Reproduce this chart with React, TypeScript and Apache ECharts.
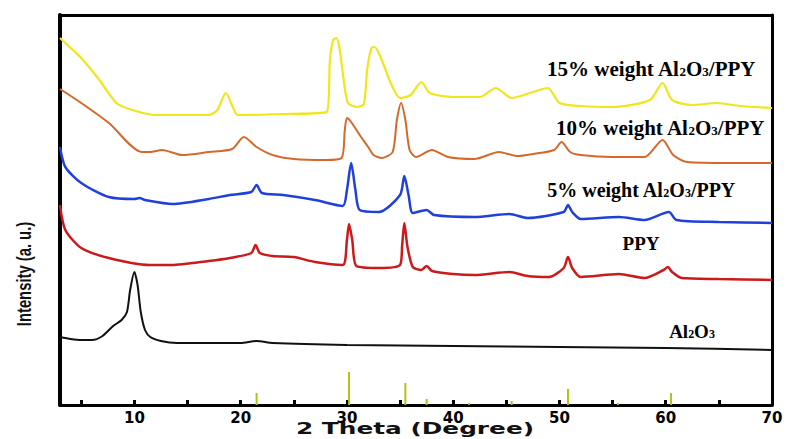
import React, { useEffect, useRef } from "react";
import * as echarts from "echarts";

// 2θ tick labels and minor tick positions
const xLabelTicks = [10, 20, 30, 40, 50, 60, 70];
const xMinorTicks = [5, 10, 15, 20, 25, 30, 35, 40, 45, 50, 55, 60, 65];

// Intensity (a.u.) vs 2θ, offset traces
const al2o3: [number, number][] = [
  [3, 68], [4, 66], [5, 65], [6, 65], [7, 69], [8, 79], [8.8, 85], [9.3, 93], [9.6, 115],
  [10.0, 133], [10.3, 120], [10.6, 93], [11, 75], [11.5, 68], [12.5, 64], [14, 62], [20, 62],
  [21.5, 64], [23, 62], [30, 60], [40, 59], [50, 58], [60, 57], [70, 55],
];

const ppy: [number, number][] = [
  [3, 200], [3.5, 175], [5, 157], [7.6, 147], [11.4, 140], [13.5, 140], [17, 144], [19, 147],
  [21.0, 152], [21.4, 160], [21.8, 152], [23, 149], [25, 148], [27, 143], [29.6, 140],
  [30.0, 165], [30.2, 181], [30.5, 165], [30.9, 139], [33, 137], [35.0, 140], [35.2, 160], [35.4, 182],
  [35.7, 158], [36.2, 138], [37.0, 135], [37.5, 139], [38, 134], [40, 131], [42, 130], [45.3, 133],
  [47, 129], [49, 128], [50.4, 137], [50.8, 148], [51.2, 137], [52, 128], [55.6, 131], [58, 127],
  [59.8, 135], [60.2, 138], [60.6, 133], [61.5, 127], [65, 126], [70, 125],
];

const ppy5: [number, number][] = [
  [3, 258], [3.5, 238], [5, 222], [7.6, 208], [10, 206], [10.5, 207], [11, 205], [13.6, 201],
  [17, 206], [19, 210], [21, 213], [21.5, 220], [22, 212], [24, 210], [27, 205], [29.6, 199],
  [30.0, 215], [30.4, 242], [30.8, 215], [31.2, 195], [33, 193], [35.0, 210], [35.4, 229],
  [35.8, 210], [36.2, 192], [37.5, 195], [38.2, 190], [42, 188], [45.3, 191], [47, 187],
  [50.4, 193], [50.8, 200], [51.2, 193], [52, 186], [55.6, 188], [58, 185], [60.3, 193],
  [61, 185], [65, 183], [70, 182],
];

const ppy10: [number, number][] = [
  [3, 316], [5, 302], [7.6, 282], [10.7, 253], [11.5, 253], [12.6, 255], [14.5, 250], [17, 253],
  [19.2, 256], [20.3, 268], [21.5, 258], [23, 250], [25, 246], [28, 245], [29.5, 247], [29.8, 275],
  [30.0, 287], [30.4, 283], [31.2, 270], [32.0, 258], [32.5, 250], [33.3, 247], [34.3, 253],
  [34.7, 285], [35.1, 302], [35.5, 285], [35.9, 255], [36.5, 248], [38, 255], [39.5, 248],
  [42, 246], [44.3, 253], [46, 249], [47.5, 251], [49.5, 255], [50.2, 263], [51, 253], [52, 250],
  [55, 248], [58, 248], [59.7, 265], [60.7, 250], [62, 243], [66, 242], [70, 242],
];

const ppy15: [number, number][] = [
  [3, 367], [4, 357], [5, 347], [6.7, 325], [8.3, 302], [9.8, 295], [12, 290], [17, 290],
  [17.8, 295], [18.6, 312], [19.3, 297], [19.7, 290], [24, 291], [28.1, 293], [28.4, 345],
  [28.7, 365], [29.0, 367], [29.3, 357], [29.7, 325], [30.1, 302], [31.0, 298], [31.6, 301],
  [31.9, 335], [32.3, 357], [32.6, 358], [33.2, 347], [34.2, 320], [35, 307], [36, 310],
  [37, 323], [37.8, 312], [40, 308], [42.5, 308], [44, 317], [45.5, 307], [47.5, 313],
  [48.9, 317], [50, 302], [52, 299], [55, 298], [58.5, 305], [59.7, 322], [60.6, 305],
  [62.5, 300], [64.8, 302], [67, 299], [70, 297],
];

// Reference stick pattern (2θ, relative intensity)
const refPeaks: [number, number][] = [
  [21.5, 12], [30.2, 33], [35.5, 22], [37.5, 6], [41.5, 2], [45.5, 4], [50.8, 16], [55.5, 2], [60.5, 12],
];

function rich(size: number) {
  const base = { fontFamily: "Liberation Serif", fontWeight: "bold", color: "#222", lineHeight: 26 };
  return {
    n: { ...base, fontSize: size, verticalAlign: "middle" },
    s: { ...base, fontSize: Math.round(size * 0.62), verticalAlign: "bottom", padding: [0, 0, 4, 0] },
  };
}

function label(text: string, x: number, y: number, size: number) {
  return {
    type: "text",
    x,
    y,
    style: { text, rich: rich(size), align: "center", verticalAlign: "middle" },
  };
}

export default function App() {
  const ref = useRef<HTMLDivElement>(null);
  useEffect(() => {
    if (!ref.current) return;
    const chart = echarts.init(ref.current, null, { renderer: "svg" });
    const line = (name: string, data: [number, number][], color: string, width: number) => ({
      name,
      type: "line",
      data,
      showSymbol: false,
      smooth: 0.25,
      lineStyle: { color, width },
      z: 3,
    });
    const frameLine = (width: number) => ({ show: true, onZero: false, lineStyle: { color: "#000", width } });
    chart.setOption({
      animation: false,
      backgroundColor: "#fff",
      grid: { left: 60, right: 14, top: 15, bottom: 34 },
      xAxis: [
        {
          type: "value",
          min: 3,
          max: 70,
          axisLine: frameLine(3),
          axisTick: { show: true, inside: true, length: 5, customValues: xMinorTicks, lineStyle: { color: "#000", width: 3 } },
          axisLabel: { customValues: xLabelTicks, margin: 5, fontFamily: "DejaVu Sans", fontWeight: 900, fontSize: 15, color: "#000" },
          splitLine: { show: false },
        },
        {
          type: "value",
          position: "top",
          min: 3,
          max: 70,
          axisLine: frameLine(3),
          axisTick: { show: false },
          axisLabel: { show: false },
          splitLine: { show: false },
        },
      ],
      yAxis: [
        {
          type: "value",
          min: 0,
          max: 390,
          axisLine: frameLine(4),
          axisTick: { show: false },
          axisLabel: { show: false },
          splitLine: { show: false },
        },
        {
          type: "value",
          position: "right",
          min: 0,
          max: 390,
          axisLine: frameLine(3),
          axisTick: { show: false },
          axisLabel: { show: false },
          splitLine: { show: false },
        },
      ],
      graphic: [
        label("{n|15% weight Al}{s|2}{n|O}{s|3}{n|/PPY}", 651, 69, 21),
        label("{n|10% weight Al}{s|2}{n|O}{s|3}{n|/PPY}", 660, 128, 21),
        label("{n|5% weight Al}{s|2}{n|O}{s|3}{n|/PPY}", 641, 190, 20),
        label("{n|PPY}", 641, 243, 19),
        label("{n|Al}{s|2}{n|O}{s|3}", 692, 331, 19),
        {
          type: "text",
          x: 24,
          y: 274,
          rotation: Math.PI / 2,
          scaleX: 0.74,
          style: {
            text: "Intensity (a. u.)",
            fontFamily: "Liberation Sans",
            fontWeight: "bold",
            fontSize: 20,
            fill: "#111",
            align: "center",
            verticalAlign: "middle",
          },
        },
        {
          type: "text",
          x: 415,
          y: 429,
          scaleX: 1.55,
          style: {
            text: "2 Theta (Degree)",
            fontFamily: "DejaVu Sans",
            fontWeight: "bold",
            fontSize: 16,
            fill: "#111",
            align: "center",
            verticalAlign: "middle",
          },
        },
      ],
      series: [
        line("Al2O3", al2o3, "#111111", 2),
        line("PPY", ppy, "#cc1a1a", 2.5),
        line("5% weight Al2O3/PPY", ppy5, "#2040dc", 2.5),
        line("10% weight Al2O3/PPY", ppy10, "#d4692b", 2),
        line("15% weight Al2O3/PPY", ppy15, "#efe61c", 2.2),
        {
          name: "Reference",
          type: "bar",
          data: refPeaks,
          barWidth: 2,
          itemStyle: { color: "#b3c01c" },
          z: 2,
        },
      ],
    });
    return () => chart.dispose();
  }, []);
  return <div ref={ref} style={{ width: 786, height: 439, position: "fixed", left: 0, top: 0 }} />;
}
